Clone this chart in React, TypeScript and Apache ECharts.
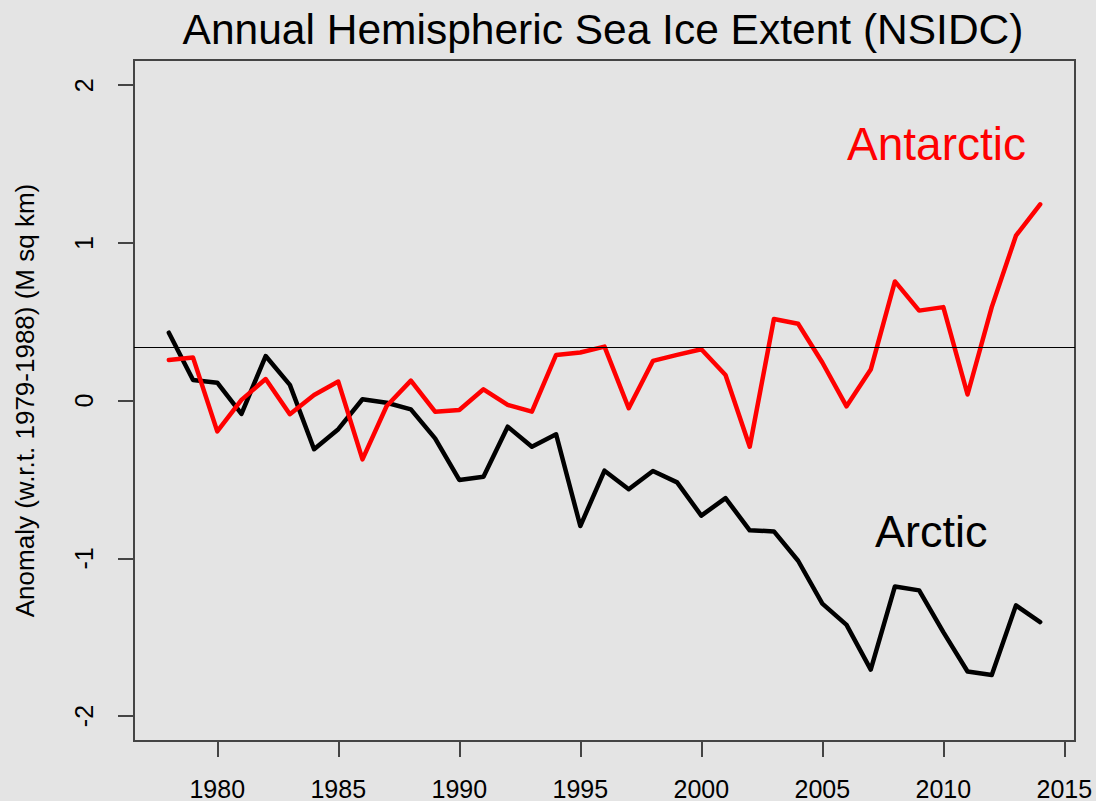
import React, { useEffect, useRef } from "react";
import * as echarts from "echarts";

const years = [
  1978, 1979, 1980, 1981, 1982, 1983, 1984, 1985, 1986, 1987, 1988, 1989, 1990,
  1991, 1992, 1993, 1994, 1995, 1996, 1997, 1998, 1999, 2000, 2001, 2002, 2003,
  2004, 2005, 2006, 2007, 2008, 2009, 2010, 2011, 2012, 2013, 2014,
];

const arctic = [
  0.431, 0.131, 0.114, -0.084, 0.283, 0.1, -0.308, -0.181, 0.009, -0.013, -0.055,
  -0.239, -0.503, -0.482, -0.165, -0.292, -0.213, -0.795, -0.444, -0.562, -0.446,
  -0.518, -0.729, -0.618, -0.822, -0.829, -1.015, -1.287, -1.422, -1.705, -1.178,
  -1.203, -1.468, -1.717, -1.739, -1.298, -1.404,
];

const antarctic = [
  0.258, 0.273, -0.195, 0.005, 0.137, -0.086, 0.036, 0.121, -0.372, -0.034, 0.127,
  -0.07, -0.059, 0.072, -0.027, -0.07, 0.29, 0.305, 0.343, -0.048, 0.252, 0.29,
  0.326, 0.163, -0.292, 0.518, 0.488, 0.242, -0.036, 0.197, 0.756, 0.571, 0.593,
  0.039, 0.593, 1.046, 1.245,
];

const referenceLevel = [0.336];
const xTicks = [1980, 1985, 1990, 1995, 2000, 2005, 2010, 2015];
const yTicks = [-2, -1, 0, 1, 2];

const titleText = "Annual Hemispheric Sea Ice Extent (NSIDC)";
const yName = "Anomaly (w.r.t. 1979-1988) (M sq km)";
const seriesLabels = ["Arctic", "Antarctic"];

const FONT = "'Liberation Sans', Arial, Helvetica, sans-serif";

export default function App() {
  const ref = useRef<HTMLDivElement>(null);
  useEffect(() => {
    if (!ref.current) return;
    const chart = echarts.init(ref.current, null, { renderer: "svg" });
    const pair = (vals: number[]) => years.map((y, i) => [y, vals[i]]);
    chart.setOption({
      animation: false,
      backgroundColor: "#e4e4e4",
      title: {
        text: titleText,
        left: 598,
        top: 3,
        textAlign: "center",
        textStyle: {
          fontFamily: FONT,
          fontSize: 42.5,
          fontWeight: "normal",
          color: "#000",
        },
      },
      grid: {
        left: 134,
        right: 21,
        top: 60,
        bottom: 60,
        show: true,
        borderColor: "#444",
        borderWidth: 2,
        backgroundColor: "transparent",
      },
      xAxis: {
        type: "value",
        min: 1976.56,
        max: 2015.44,
        splitLine: { show: false },
        axisLine: { show: false, onZero: false },
        axisTick: {
          show: true,
          inside: false,
          length: 16,
          lineStyle: { color: "#444", width: 2 },
          customValues: xTicks,
        },
        axisLabel: {
          customValues: xTicks,
          fontFamily: FONT,
          fontSize: 25,
          color: "#000",
          margin: 35,
          formatter: (v: number) => String(v),
        },
      },
      yAxis: {
        type: "value",
        min: -2.158,
        max: 2.16,
        name: yName,
        nameLocation: "middle",
        nameRotate: 90,
        nameGap: 96,
        nameTextStyle: { fontFamily: FONT, fontSize: 26, color: "#000" },
        splitLine: { show: false },
        axisLine: { show: false, onZero: false },
        axisTick: {
          show: true,
          inside: false,
          length: 16,
          lineStyle: { color: "#444", width: 2 },
          customValues: yTicks,
        },
        axisLabel: {
          customValues: yTicks,
          rotate: 90,
          fontFamily: FONT,
          fontSize: 25,
          color: "#000",
          margin: 38,
          formatter: (v: number) => String(v),
        },
      },
      series: [
        {
          name: seriesLabels[1],
          type: "line",
          data: pair(antarctic),
          showSymbol: false,
          symbol: "none",
          lineStyle: { color: "#ff0000", width: 4.5, join: "round", cap: "round" },
          z: 3,
          markLine: {
            silent: true,
            symbol: ["none", "none"],
            label: { show: false },
            lineStyle: { color: "#000", width: 1, type: "solid" },
            data: referenceLevel.map((v) => ({ yAxis: v })),
          },
        },
        {
          name: seriesLabels[0],
          type: "line",
          data: pair(arctic),
          showSymbol: false,
          symbol: "none",
          lineStyle: { color: "#000000", width: 4.5, join: "round", cap: "round" },
          z: 2,
        },
      ],
      graphic: [
        {
          type: "text",
          left: 847,
          top: 121,
          style: {
            text: seriesLabels[1],
            fill: "#ff0000",
            font: `46px ${FONT}`,
          },
        },
        {
          type: "text",
          left: 875,
          top: 509,
          style: {
            text: seriesLabels[0],
            fill: "#000",
            font: `45px ${FONT}`,
          },
        },
      ],
    });
    return () => chart.dispose();
  }, []);
  return (
    <div
      ref={ref}
      style={{ position: "fixed", left: 0, top: 0, width: 1096, height: 801 }}
    />
  );
}
